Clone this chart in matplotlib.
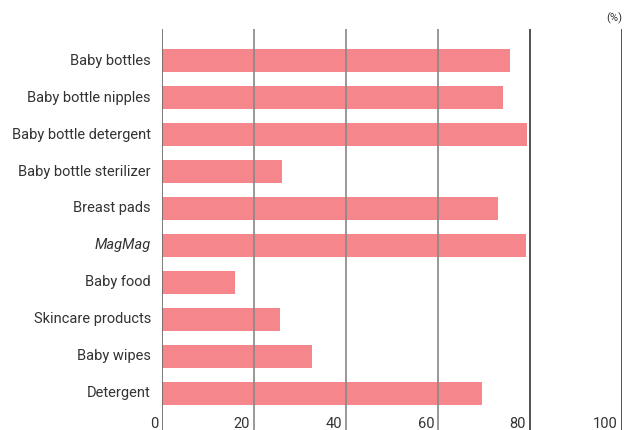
import matplotlib
matplotlib.use("Agg")
import matplotlib.pyplot as plt

plt.rcParams['font.family'] = ['Roboto', 'DejaVu Sans']

categories = ["Baby bottles", "Baby bottle nipples", "Baby bottle detergent",
              "Baby bottle sterilizer", "Breast pads", "MagMag", "Baby food",
              "Skincare products", "Baby wipes", "Detergent"]
values = [75.7, 74.3, 79.5, 26.1, 73.2, 79.3, 15.9, 25.7, 32.7, 69.6]
ticks = [0, 20, 40, 60, 80, 100]

bar_color = "#F4868C"
text_color = "#333333"

fig = plt.figure(figsize=(6.24, 4.30), dpi=100)
ax = fig.add_axes([162 / 624, 0, (621.5 - 162) / 624, (430 - 29) / 430])

ypos = list(range(len(categories)))
ax.barh(ypos, values, height=0.62, color=bar_color, zorder=1)

# vertical grid lines, running the full height
for t in ticks:
    c = "#888888" if t in (20, 40, 60) else "#333333"
    if t == 0:
        c = "#666666"
    ax.axvline(t, color=c, lw=1.2, zorder=2)

ax.set_xlim(0, 100)
ax.set_ylim(10.0, -0.86)
ax.axis("off")

# category labels on the left
for i, name in enumerate(categories):
    style = "italic" if name == "MagMag" else "normal"
    ax.text(-2.4, i, name, ha="right", va="center", fontsize=10.5,
            color=text_color, style=style)

# tick labels sit just left of each line at the bottom
for t in ticks:
    ax.text(t - 0.8, 9.84, str(t), ha="right", va="center", fontsize=10.5,
            color=text_color)

fig.text(622 / 624, 1 - 18 / 430, "(%)", ha="right", va="center",
         fontsize=8, color=text_color)

fig.savefig("out.png", dpi=100)
